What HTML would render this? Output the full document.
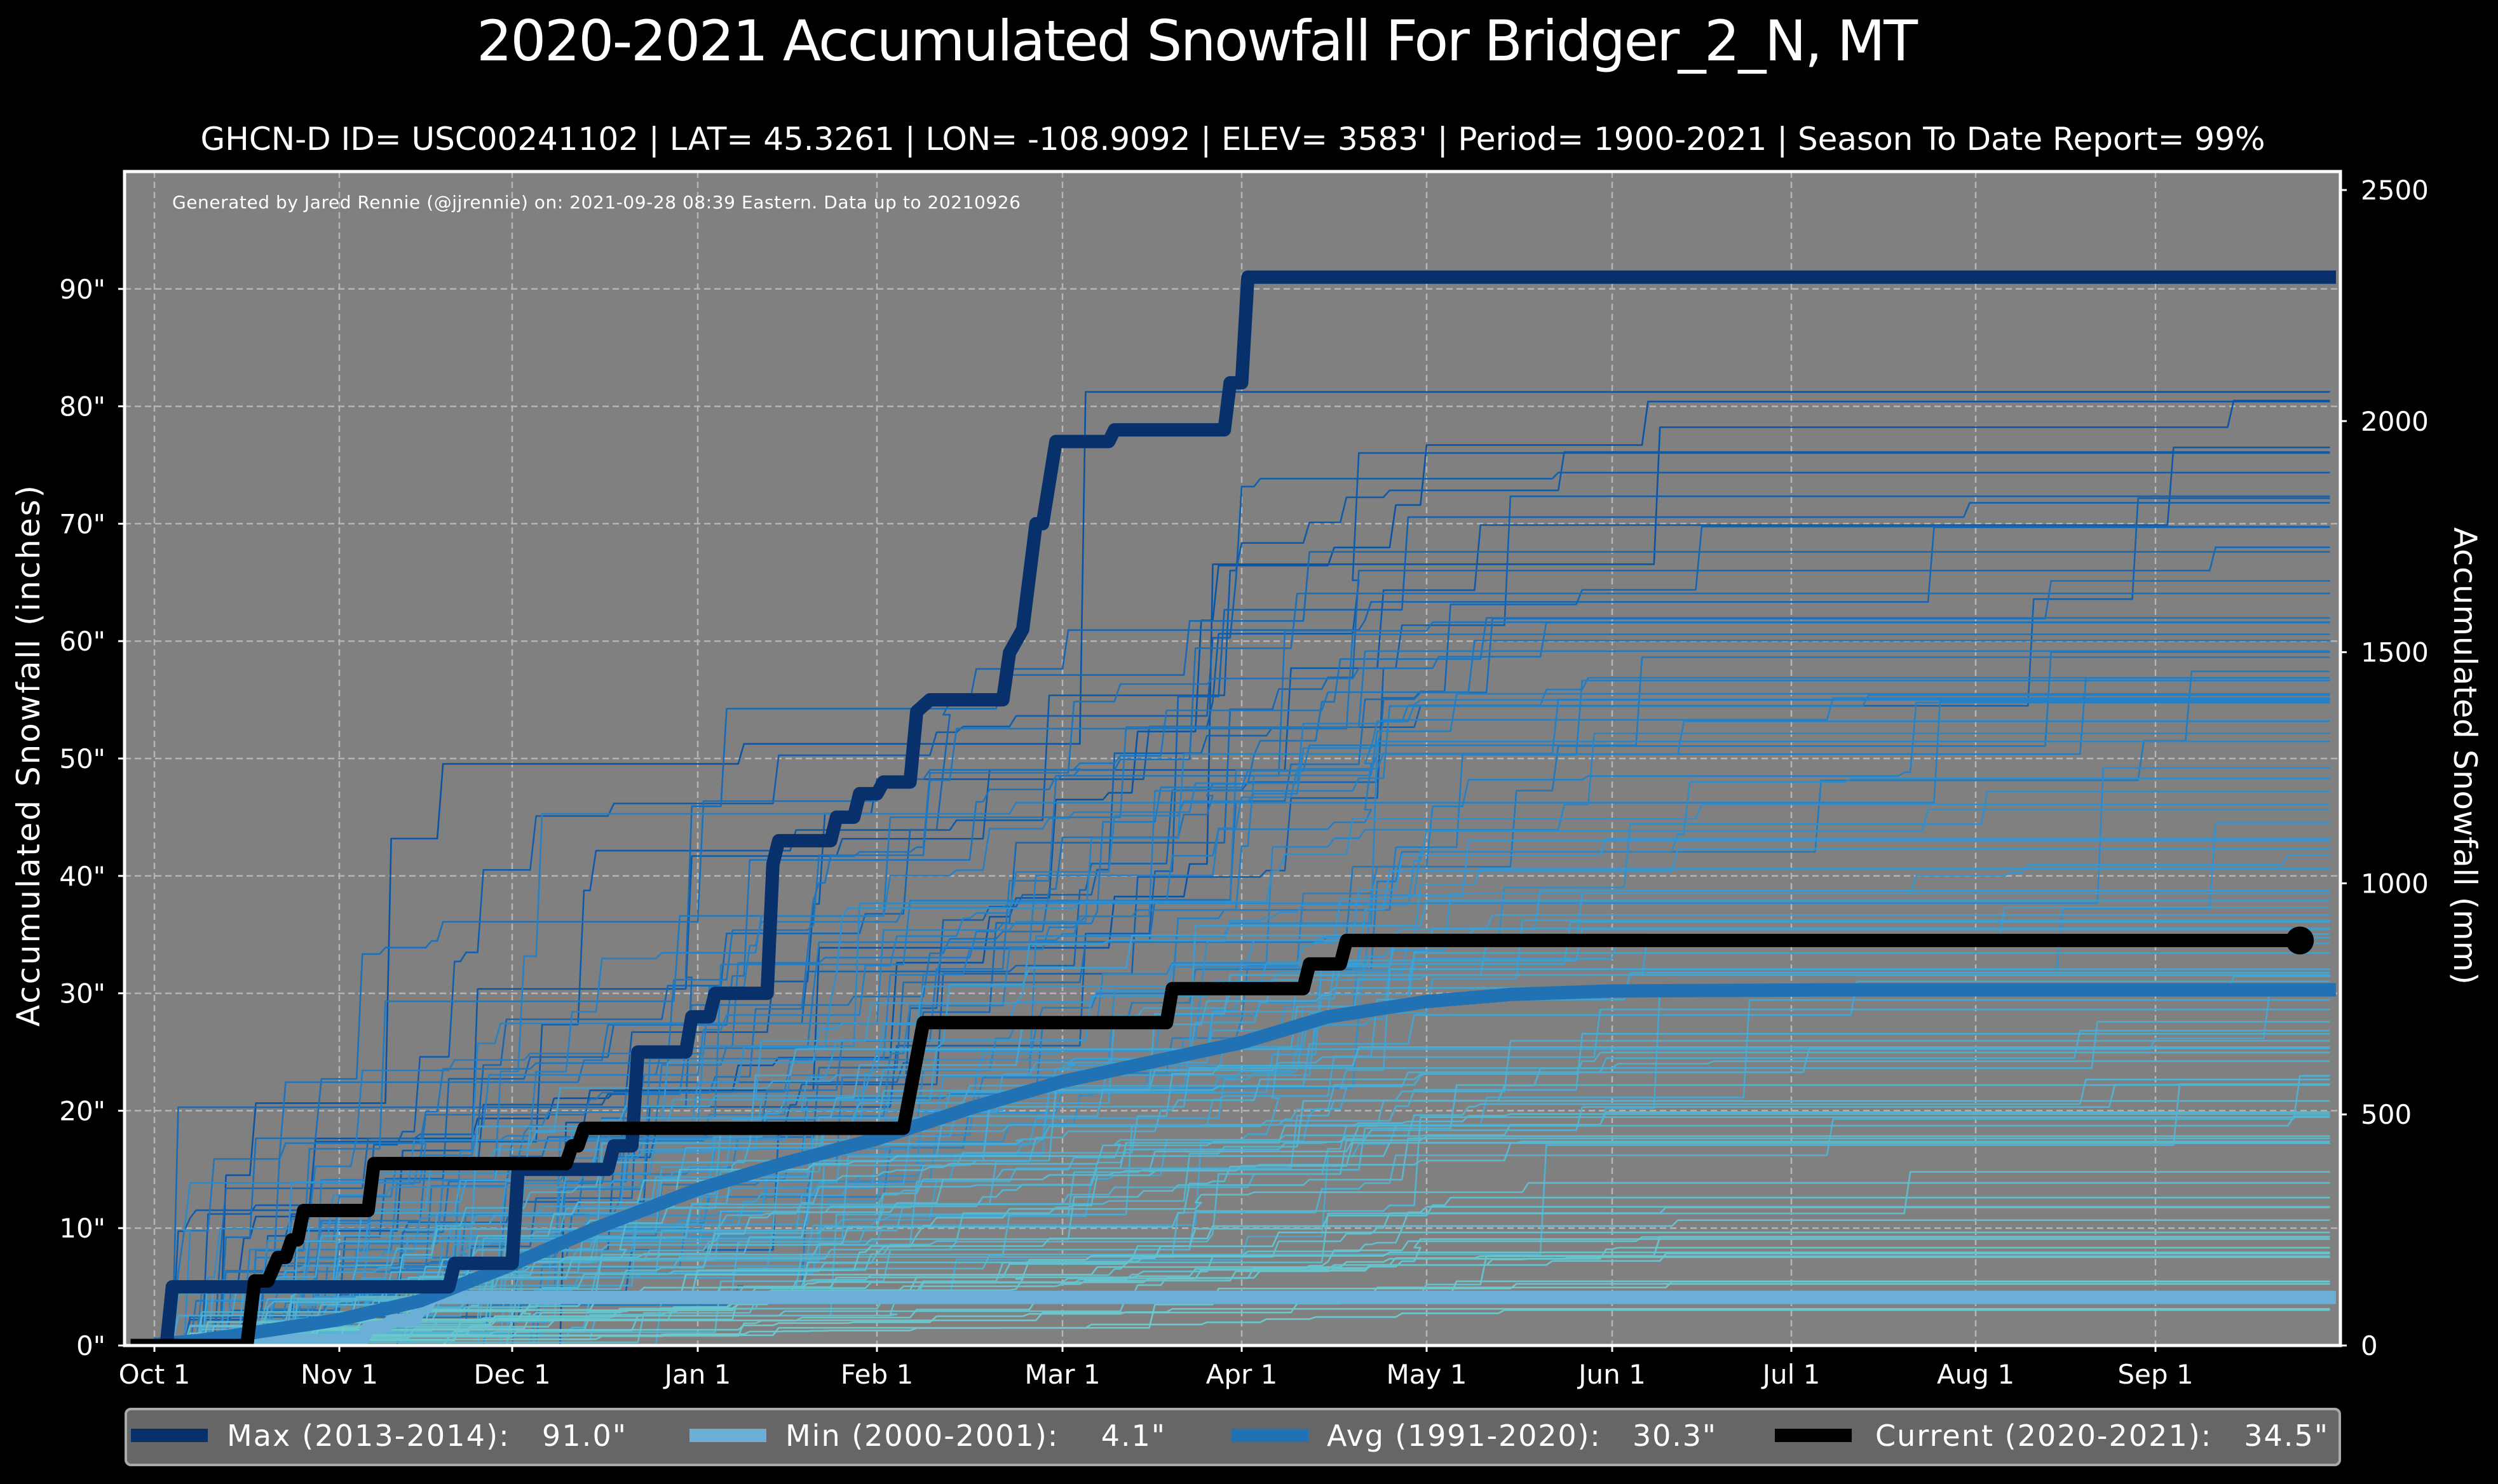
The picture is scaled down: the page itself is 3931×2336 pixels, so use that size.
<!DOCTYPE html>
<html><head><meta charset="utf-8">
<style>
html,body{margin:0;padding:0;background:#000;}
svg{display:block;}
text{font-family:"DejaVu Sans","Liberation Sans",sans-serif;fill:#fff;}
</style></head>
<body>
<svg id="s" width="3931" height="2336" viewBox="0 0 3931 2336" xmlns="http://www.w3.org/2000/svg">
<rect width="3931" height="2336" fill="#000"/>
<text x="1884" y="95" font-size="88" text-anchor="middle" textLength="2268">2020-2021 Accumulated Snowfall For Bridger_2_N, MT</text>
<text x="1940" y="236" font-size="50" text-anchor="middle" textLength="3249">GHCN-D ID= USC00241102 | LAT= 45.3261 | LON= -108.9092 | ELEV= 3583' | Period= 1900-2021 | Season To Date Report= 99%</text>
<defs><clipPath id="cp"><rect x="196" y="270" width="3487" height="1848"/></clipPath></defs>
<rect x="196" y="270" width="3487" height="1848" fill="#808080"/>
<g id="grid" stroke="#b4b4b4" stroke-width="2.5" stroke-dasharray="10,6" fill="none"></g>
<g id="lines" clip-path="url(#cp)" fill="none" stroke-linejoin="round"></g>
<text x="271" y="328" font-size="28" textLength="1335">Generated by Jared Rennie (@jjrennie) on: 2021-09-28 08:39 Eastern. Data up to 20210926</text>
<rect x="196" y="270" width="3487" height="1848" fill="none" stroke="#fff" stroke-width="5"/>
<g id="ticks"></g>
<text transform="translate(62,1190) rotate(-90)" font-size="50" text-anchor="middle" textLength="852">Accumulated Snowfall (inches)</text>
<text transform="translate(3862,1190) rotate(90)" font-size="50" text-anchor="middle" textLength="720">Accumulated Snowfall (mm)</text>
<rect x="198" y="2218" width="3484" height="88" rx="8" fill="#666" stroke="#aaa" stroke-width="4"/>
<rect x="206" y="2249" width="121" height="21" fill="#08306b"/>
<text x="357" y="2276" font-size="46" xml:space="preserve" textLength="628">Max (2013-2014):   91.0"</text>
<rect x="1085" y="2249" width="121" height="21" fill="#6baed6"/>
<text x="1236" y="2276" font-size="46" xml:space="preserve" textLength="597">Min (2000-2001):    4.1"</text>
<rect x="1938" y="2249" width="121" height="21" fill="#2171b5"/>
<text x="2088" y="2276" font-size="46" xml:space="preserve" textLength="612">Avg (1991-2020):   30.3"</text>
<rect x="2793" y="2249" width="121" height="21" fill="#000"/>
<text x="2951" y="2276" font-size="46" xml:space="preserve" textLength="712">Current (2020-2021):   34.5"</text>
</svg>
<script>
(function(){
var NS="http://www.w3.org/2000/svg";
var K=[[0,243],[31,534],[61,806],[92,1098],[123,1380],[151,1672],[182,1954],[212,2245],[243,2537],[273,2819],[304,3109],[335,3392],[365,3676]];
function X(d){for(var i=0;i<K.length-1;i++){if(d<=K[i+1][0]){var a=K[i],b=K[i+1];return a[1]+(d-a[0])*(b[1]-a[1])/(b[0]-a[0]);}}return 3676+(d-365)*9.44;}
function Y(v){return 2118-18.48*v;}
function el(p,t,at){var e=document.createElementNS(NS,t);for(var k in at)e.setAttribute(k,at[k]);p.appendChild(e);return e;}
var grid=document.getElementById('grid'),ticks=document.getElementById('ticks'),lines=document.getElementById('lines');
var mon=["Oct 1","Nov 1","Dec 1","Jan 1","Feb 1","Mar 1","Apr 1","May 1","Jun 1","Jul 1","Aug 1","Sep 1"];
for(var i=0;i<12;i++){var x=K[i][1];el(grid,'line',{x1:x,y1:270,x2:x,y2:2118});
 el(ticks,'line',{x1:x,y1:2118,x2:x,y2:2128,stroke:'#fff','stroke-width':3});
 var t=el(ticks,'text',{x:x,y:2178,'font-size':42,'text-anchor':'middle'});t.textContent=mon[i];}
for(var v=0;v<=90;v+=10){var y=Y(v);if(v>0)el(grid,'line',{x1:196,y1:y,x2:3683,y2:y});
 el(ticks,'line',{x1:186,y1:y,x2:196,y2:y,stroke:'#fff','stroke-width':3});
 var t=el(ticks,'text',{x:166,y:y+15,'font-size':42,'text-anchor':'end'});t.textContent=v+'"';}
for(var mm=0;mm<=2500;mm+=500){var y=Y(mm/25.4);
 el(ticks,'line',{x1:3683,y1:y,x2:3693,y2:y,stroke:'#fff','stroke-width':3});
 var t=el(ticks,'text',{x:3715,y:y+15,'font-size':42});t.textContent=mm;}
var s=12345;function r(){s|=0;s=s+0x6D2B79F5|0;var t=Math.imul(s^s>>>15,1|s);t=t+Math.imul(t^t>>>7,61|t)^t;return((t^t>>>14)>>>0)/4294967296;}
function lerp(a,b,t){return a+(b-a)*t;}
function col(T){var t=Math.max(0,Math.min(1,(T-5)/75));var c0=[108,200,204],c1=[52,150,210],c2=[10,84,165];var a,b,u;
 if(t<0.5){a=c0;b=c1;u=t/0.5;}else{a=c1;b=c2;u=(t-0.5)/0.5;}
 return 'rgb('+Math.round(lerp(a[0],b[0],u))+','+Math.round(lerp(a[1],b[1],u))+','+Math.round(lerp(a[2],b[2],u))+')';}
function pathStr(pts){var d='';for(var i=0;i<pts.length;i++){d+=(i?'L':'M')+X(pts[i][0]).toFixed(1)+','+Y(pts[i][1]).toFixed(1);}return d;}
var N=115,arr=[];
for(var k=0;k<N;k++){
 var u=r(),T;
 if(u<0.1)T=60+r()*22;else if(u<0.45)T=35+r()*27;else if(u<0.8)T=17+r()*20;else T=3+r()*15;
 var n=6+Math.floor(r()*18),ev=[],sum=0;
 for(var j=0;j<n;j++){var dd;var q=r();if(q<0.9)dd=3+r()*210;else if(q<0.97)dd=200+r()*60;else dd=260+r()*100;
  var a=Math.pow(r(),1.6)+0.05;ev.push([Math.floor(dd),a]);sum+=a;}
 ev.sort(function(a,b){return a[0]-b[0];});
 var pts=[[0,0]],c=0;
 for(var j=0;j<ev.length;j++){var d0=ev[j][0];if(d0>0)pts.push([d0,c]);c+=ev[j][1]/sum*T;pts.push([d0+1,c]);}
 pts.push([364,c]);arr.push([T,pts]);}
arr.sort(function(a,b){return b[0]-a[0];});
for(var k=0;k<arr.length;k++){el(lines,'path',{d:pathStr(arr[k][1]),stroke:col(arr[k][0]),'stroke-width':2.6});}
var mn=[[0,0],[16,0],[17,0.4],[35,0.5],[36,1.5],[39,1.6],[40,2.1],[44,2.2],[45,3.1],[46,3.2],[47,4.1],[365,4.1]];
el(lines,'path',{d:pathStr(mn),stroke:'#6baed6','stroke-width':21});
var av=[[0,0.1],[7,0.4],[14,0.9],[31,2.2],[45,3.8],[61,6.9],[75,10],[92,13.3],[106,15.4],[123,17.6],[137,20.2],[151,22.5],[165,24],[182,25.8],[196,28],[212,29.3],[226,29.9],[243,30.2],[280,30.3],[365,30.3]];
el(lines,'path',{d:pathStr(av),stroke:'#2171b5','stroke-width':21});
var mx=[[0,0],[2,0],[3,5],[50,5],[51,7],[61,7],[62,15],[77,15],[78,17],[81,17],[82,25],[90,25],[91,28],[94,28],[95,30],[104,30],[105,41],[106,43],[115,43],[116,45],[119,45],[120,47],[123,47],[124,48],[128,48],[129,54],[131,55],[142,55],[143,59],[145,61],[147,70],[148,70],[150,77],[159,77],[160,78],[179,78],[180,82],[182,82],[183,91],[365,91]];
el(lines,'path',{d:pathStr(mx),stroke:'#08306b','stroke-width':21});
var cu=[[-4,0],[15.5,0],[16.8,5.5],[19,5.5],[20.7,7.5],[22,7.5],[23,9],[24,9],[25,11.5],[36,11.5],[37,15.5],[70,15.5],[71,17],[72,17],[73,18.5],[127,18.5],[130,27.5],[169,27.5],[170,30.4],[192,30.4],[193,32.5],[198,32.5],[199,34.5],[359,34.5]];
el(lines,'path',{d:pathStr(cu),stroke:'#000','stroke-width':21});
el(lines,'circle',{cx:X(359),cy:Y(34.5),r:22,fill:'#000'});
})();
</script>
</body></html>
